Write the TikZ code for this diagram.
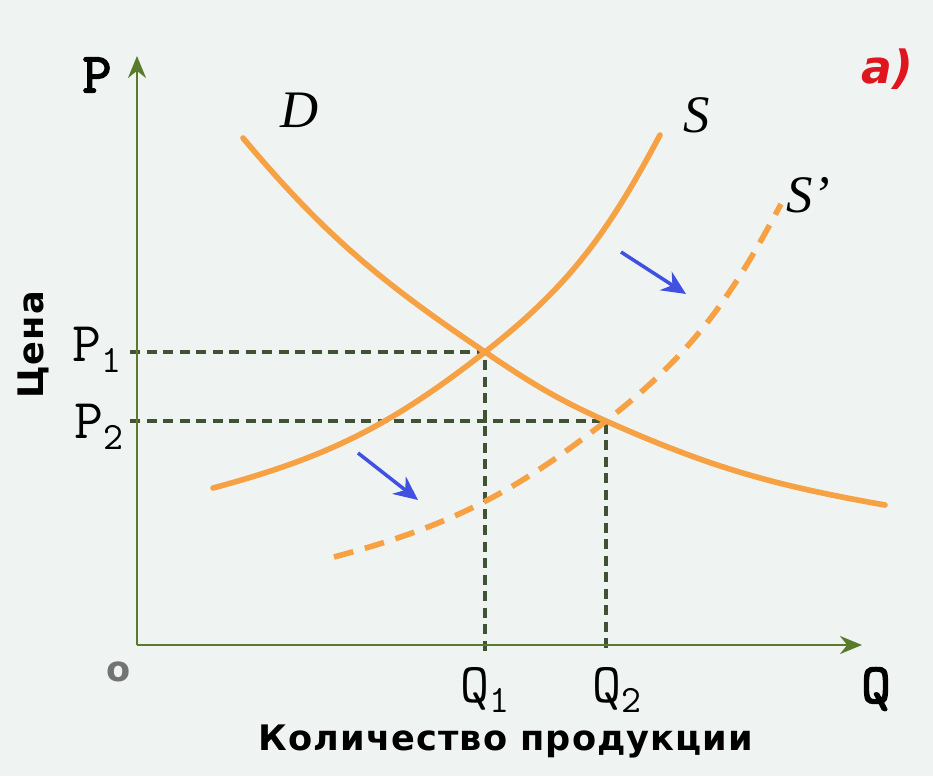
\documentclass[tikz,border=0pt]{standalone}
\usepackage{fontspec}
\setmainfont{Liberation Serif}
\setsansfont{DejaVu Sans}
\newfontfamily\boldmono[FakeBold=3]{Latin Modern Mono}
\newfontfamily\capfont[LetterSpace=3]{DejaVu Sans}
\usetikzlibrary{arrows.meta}
\definecolor{chartbg}{HTML}{EFF4F3}
\definecolor{curveorange}{HTML}{F6A244}
\definecolor{axisgreen}{HTML}{5A7A2C}
\definecolor{guidegreen}{HTML}{3F5234}
\definecolor{shiftblue}{HTML}{4050E0}
\definecolor{panelred}{HTML}{E0161E}
\newcommand{\lvlname}[2]{#1\raisebox{-0.45ex}{\fontsize{11}{11}\selectfont #2}}

\begin{document}
\begin{tikzpicture}[x=1cm,y=1cm,>=stealth]
  \tikzstyle{axis}=[-{Stealth[length=2.2mm,width=1.8mm]}, draw=axisgreen, line width=0.8pt]
  \tikzstyle{guide}=[draw=guidegreen, line width=1pt, dash pattern=on 0.1cm off 0.065cm]
  \tikzstyle{curve}=[draw=curveorange, line width=1.6pt, line cap=round]
  \tikzstyle{shifted}=[curve, dash pattern=on 0.2cm off 0.12cm, line cap=butt]
  \tikzstyle{move}=[-{Stealth[length=2.4mm,width=2.2mm]}, draw=shiftblue, line width=1pt]
  \tikzstyle{levellabel}=[font=\ttfamily\fontsize{16}{18}\selectfont, text=black, inner sep=0pt]
  \tikzstyle{axislabel}=[font=\boldmono\fontsize{16}{18}\selectfont, text=black, inner sep=0pt]
  \tikzstyle{curvelabel}=[font=\itshape\fontsize{15}{18}\selectfont, text=black, inner sep=0pt, anchor=base]
  \tikzstyle{caption}=[font=\capfont\bfseries\fontsize{10}{12}\selectfont, text=black, inner sep=0pt, anchor=base]

  \fill[chartbg] (0,0) rectangle (9.33,7.76);
  \path[use as bounding box] (0,0) rectangle (9.33,7.76);

  \coordinate (origin) at (1.37,1.31);
  \coordinate (ytop) at (1.37,7.20);
  \coordinate (xend) at (8.62,1.31);
  \coordinate (eqone) at (4.85,4.24);
  \coordinate (eqtwo) at (6.06,3.55);
  \coordinate (pone) at (1.30,4.24);
  \coordinate (ptwo) at (1.30,3.55);
  \coordinate (qone) at (4.85,1.23);
  \coordinate (qtwo) at (6.06,1.23);

  \draw[guide] (pone) -- (eqone) -- (qone);
  \draw[guide] (ptwo) -- (eqtwo) -- (qtwo);

  \draw[axis] (origin) -- (ytop);
  \draw[axis] (origin) -- (xend);

  \draw[curve] (2.43,6.38) to[out=-50, in=146] (eqone) to[out=-34, in=156] (eqtwo) to[out=-24, in=170] (8.85,2.71);
  \draw[curve] (2.13,2.88) to[out=15, in=218] (eqone) to[out=38, in=242] (6.60,6.41);
  \draw[shifted, shift={(1.21,-0.69)}] (2.13,2.88) to[out=15, in=218] (4.85,4.24) to[out=38, in=242] (6.60,6.41);

  \coordinate (lowfrom) at (3.58,3.23);
  \coordinate (lowto) at (4.18,2.76);
  \coordinate (highfrom) at (6.21,5.24);
  \coordinate (highto) at (6.86,4.82);
  \draw[move] (lowfrom) -- (lowto);
  \draw[move] (highfrom) -- (highto);

  \node[axislabel] (plabel) at (0.97,7.01) {P};
  \node[axislabel] (qlabel) at (8.76,0.87) {Q};
  \node[levellabel] (ponelabel) at (0.97,4.26) {\lvlname{P}{1}};
  \node[levellabel] (ptwolabel) at (0.99,3.49) {\lvlname{P}{2}};
  \node[levellabel] (qonelabel) at (4.85,0.86) {\lvlname{Q}{1}};
  \node[levellabel] (qtwolabel) at (6.17,0.86) {\lvlname{Q}{2}};
  \node[font=\sffamily\bfseries\fontsize{10}{12}\selectfont, text=black!55, inner sep=0pt] (olabel) at (1.19,1.04) {o};

  \node[curvelabel] (dlabel) at (3.00,6.48) {D};
  \node[curvelabel] (slabel) at (6.97,6.43) {S};
  \node[curvelabel] (snewlabel) at (8.08,5.64) {S’};
  \node[font=\sffamily\bfseries\itshape\fontsize{13}{15}\selectfont, text=panelred, inner sep=0pt, anchor=base] (panel) at (8.87,6.92) {a)};

  \node[caption] (qtitle) at (5.06,0.26) {Количество продукции};
  \node[caption, rotate=90] (ptitle) at (0.43,4.31) {Цена};
\end{tikzpicture}
\end{document}
